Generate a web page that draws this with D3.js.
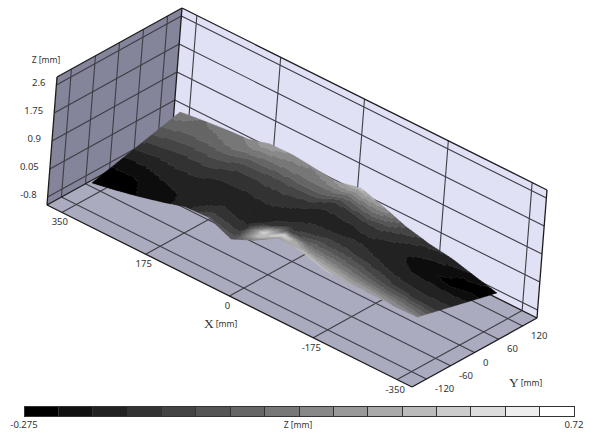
<!DOCTYPE html>
<html>
<head>
<meta charset="utf-8">
<script src="https://cdn.jsdelivr.net/npm/d3@7"></script>
<style>
html,body{margin:0;padding:0;background:#fff}
svg{display:block}
text{font-family:"Noto Sans",sans-serif;font-size:9.5px;fill:#333}
</style>
</head>
<body>
<svg id="chart" width="590" height="432"></svg>
<script>
// ---- axis data ----
const xTicks = [350, 175, 0, -175, -350];
const yTicks = [-120, -60, 0, 60, 120];
const zTicks = [2.6, 1.75, 0.9, 0.05, -0.8];
const xTickLabels = ["350", "175", "0", "-175", "-350"];
const yTickLabels = ["-120", "-60", "0", "60", "120"];
const zTickLabels = ["2.6", "1.75", "0.9", "0.05", "-0.8"];
const xExtent = [381, -381];
const yExtent = [-156, 156];
const zExtent = [-1.04, 2.84];
const colorExtent = [-0.275, 0.72];
const colorLabels = ["-0.275", "0.72"];

// ---- surface data: footprint of each station (mm) ----
const backX  = [341.4,305,259.4,211.9,169.2,128.2,77.6,22.7,-23,-77.4,-122.5,-174.9,-227.5,-283.5,-335.4];
const backY  = [120.6,132.3,134.9,135.3,138.4,147.4,144.5,133.2,135.2,128.3,130.9,126.5,121.4,112.3,105.8];
const frontX = [327.5,288.4,248.2,207.3,170.6,112.9,42.6,6.3,-22.7,-83.5,-145.5,-192.8,-238.5,-283.9,-327];
const frontY = [-112.7,-102,-92.6,-81.9,-68.9,-81.7,-108.4,-95.8,-70.8,-87.1,-103.7,-102.4,-97,-93.2,-87.2];
// fraction of the way across a section for each column of zGrid
const rowT = [0, .06, .14, .25, .4, .55, .7, .85, 1];
// height (mm): one line per station, front edge to back edge
const zGrid = [
 [-.275,-.275,-.275,-.23,-.16,-.06,.04,.13,.21],
 [-.275,-.275,-.265,-.22,-.15,-.07,.02,.11,.15],
 [-.24,-.23,-.22,-.18,-.12,-.06,.03,.13,.19],
 [-.19,-.19,-.18,-.15,-.11,-.04,.05,.17,.23],
 [-.15,-.15,-.15,-.14,-.12,-.06,.03,.19,.37],
 [.04,-.04,-.10,-.13,-.12,-.06,.03,.17,.27],
 [.06,0,-.09,-.13,-.13,-.09,-.01,.14,.23],
 [.20,.45,.56,-.09,-.13,-.11,-.02,.14,.31],
 [.31,.56,-.04,-.10,-.13,-.12,-.05,.16,.45],
 [.466,.25,.11,-.01,-.11,-.13,-.07,.12,.31],
 [.45,.35,.20,.07,-.07,-.12,-.11,-.05,.03],
 [.39,.30,.17,.04,-.09,-.15,-.17,-.15,-.08],
 [.35,.25,.115,-.03,-.12,-.18,-.235,-.18,-.12],
 [.29,.21,.10,-.04,-.12,-.16,-.255,-.26,-.19],
 [.23,.15,.06,-.04,-.10,-.15,-.20,-.275,-.275]
];

// ---- projection: an oblique box defined by three scales ----
const origin = [47, 205];
const sx = d3.scaleLinear().domain(xExtent).range([0, 1]);
const sy = d3.scaleLinear().domain(yExtent).range([0, 1]);
const sz = d3.scaleLinear().domain(zExtent).range([0, 1]);
const vx = [365, 182], vy = [125, -69], vz = [10, -128];
function project(x, y, z) {
  const a = sx(x), b = sy(y), c = sz(z);
  return [origin[0] + a*vx[0] + b*vy[0] + c*vz[0],
          origin[1] + a*vx[1] + b*vy[1] + c*vz[1]];
}

const levels = d3.range(16).map(i => { const g = Math.round(i*17); return d3.rgb(g,g,g).formatHex(); });
const halfStep = (colorExtent[1]-colorExtent[0])/30;
const band = d3.scaleQuantize().domain([colorExtent[0]-halfStep, colorExtent[1]+halfStep]).range(d3.range(16));

const svg = d3.select("#chart");
svg.append("defs").append("filter").attr("id","soft").attr("x","-5%").attr("y","-5%").attr("width","110%").attr("height","110%")
  .append("feGaussianBlur").attr("stdDeviation",0.45);

// ---- box faces ----
const [xa, xb] = xExtent, [ya, yb] = yExtent, [za, zb] = zExtent;
const line = d3.line();
function face(pts, fill) {
  svg.append("path").attr("d", line(pts.map(p => project(...p))) + "Z").attr("fill", fill);
}
face([[xa,yb,za],[xb,yb,za],[xb,yb,zb],[xa,yb,zb]], "#e1e1f6");
face([[xa,ya,za],[xa,yb,za],[xa,yb,zb],[xa,ya,zb]], "#84849a");
face([[xa,ya,za],[xb,ya,za],[xb,yb,za],[xa,yb,za]], "#ababc0");

// ---- grid lines ----
function seg(a, b, stroke, w) {
  svg.append("path").attr("d", line([project(...a), project(...b)]))
    .attr("fill", "none").attr("stroke", stroke).attr("stroke-width", w);
}
const gridC = "#3e3e46", gridW = 1.1;
xTicks.forEach(x => {
  seg([x,ya,za],[x,yb,za],gridC,gridW);
  seg([x,yb,za],[x,yb,zb],gridC,gridW);
});
yTicks.forEach(y => {
  seg([xa,y,za],[xb,y,za],gridC,gridW);
  seg([xa,y,za],[xa,y,zb],gridC,gridW);
});
zTicks.forEach(z => {
  seg([xa,ya,z],[xa,yb,z],gridC,gridW);
  seg([xa,yb,z],[xb,yb,z],gridC,gridW);
});

// ---- box edges ----
const edgeC = "#1c1c1c", edgeW = 1.3;
[
 [[xa,ya,za],[xb,ya,za]], [[xb,ya,za],[xb,yb,za]], [[xa,ya,za],[xa,yb,za]], [[xa,yb,za],[xb,yb,za]],
 [[xa,ya,za],[xa,ya,zb]], [[xa,yb,za],[xa,yb,zb]], [[xb,yb,za],[xb,yb,zb]],
 [[xa,ya,zb],[xa,yb,zb]], [[xa,yb,zb],[xb,yb,zb]]
].forEach(e => seg(e[0], e[1], edgeC, edgeW));

// ---- surface ----
const nRow = rowT.length, nSt = zGrid.length;
const frontP = zGrid.map((r,k) => project(frontX[k], frontY[k], r[0]));
const backP  = zGrid.map((r,k) => project(backX[k], backY[k], r[nRow-1]));
function nodeP(k, r) {
  const t = rowT[r];
  return [frontP[k][0] + t*(backP[k][0]-frontP[k][0]), frontP[k][1] + t*(backP[k][1]-frontP[k][1])];
}
const div = 8;
const bands = d3.range(16).map(() => []);
const f = v => v.toFixed(2);
for (let k = 0; k < nSt-1; k++) for (let r = 0; r < nRow-1; r++) {
  const P00 = nodeP(k,r), P10 = nodeP(k+1,r), P01 = nodeP(k,r+1), P11 = nodeP(k+1,r+1);
  const Z00 = zGrid[k][r], Z10 = zGrid[k+1][r], Z01 = zGrid[k][r+1], Z11 = zGrid[k+1][r+1];
  const at = (a,b) => [0,1].map(i => (1-a)*(1-b)*P00[i] + a*(1-b)*P10[i] + (1-a)*b*P01[i] + a*b*P11[i]);
  for (let i = 0; i < div; i++) for (let j = 0; j < div; j++) {
    const a0 = i/div, a1 = (i+1)/div, b0 = j/div, b1 = (j+1)/div, am = (a0+a1)/2, bm = (b0+b1)/2;
    const z = (1-am)*(1-bm)*Z00 + am*(1-bm)*Z10 + (1-am)*bm*Z01 + am*bm*Z11;
    const q = [at(a0,b0), at(a1,b0), at(a1,b1), at(a0,b1)];
    bands[band(z)].push("M" + q.map(p => f(p[0]) + "," + f(p[1])).join("L") + "Z");
  }
}
svg.append("g").attr("filter","url(#soft)").selectAll("path").data(bands).join("path")
  .attr("d", d => d.join(""))
  .attr("fill", (d,i) => levels[i]).attr("stroke", (d,i) => levels[i]).attr("stroke-width", .4);

// ---- tick labels ----
function label(t, x, y, anchor) {
  return svg.append("text").attr("x", x).attr("y", y).attr("text-anchor", anchor || "middle")
    .attr("dominant-baseline", "central").text(t);
}
xTicks.forEach((x,i) => { const p = project(x,ya,za); label(xTickLabels[i], p[0]-2, p[1]+9.5); });
yTicks.forEach((y,i) => { const p = project(xb,y,za); label(yTickLabels[i], p[0]+8.5, p[1]+9.5, "start"); });
zTicks.forEach((z,i) => { const p = project(xa,ya,z); label(zTickLabels[i], p[0]-11, p[1]-2.5, "end"); });

// ---- axis titles ----
function title(letter, x, y) {
  const t = svg.append("text").attr("x", x).attr("y", y).attr("dominant-baseline", "central");
  t.append("tspan").style("font-family", "'Liberation Serif',serif").style("font-size", "13.5px").text(letter);
  t.append("tspan").attr("dx", 2).style("font-size", "8.5px").text("[mm]");
}
title("X", 204, 322.5);
title("Y", 509, 381.5);
label("Z [mm]", 46, 59).style("font-size", "8.5px");

// ---- colour legend ----
const lx = d3.scaleLinear().domain([0,16]).range([24,574]);
svg.append("g").selectAll("rect").data(levels).join("rect")
  .attr("x", (d,i) => lx(i)).attr("y", 406).attr("width", (d,i) => lx(i+1)-lx(i)).attr("height", 10.5)
  .attr("fill", d => d).attr("stroke", "#333").attr("stroke-width", 1).attr("shape-rendering", "crispEdges");
label(colorLabels[0], 24, 424.5);
label("Z [mm]", 298, 424.5).style("font-size", "8.5px");
label(colorLabels[1], 574, 424.5);
</script>
</body>
</html>
